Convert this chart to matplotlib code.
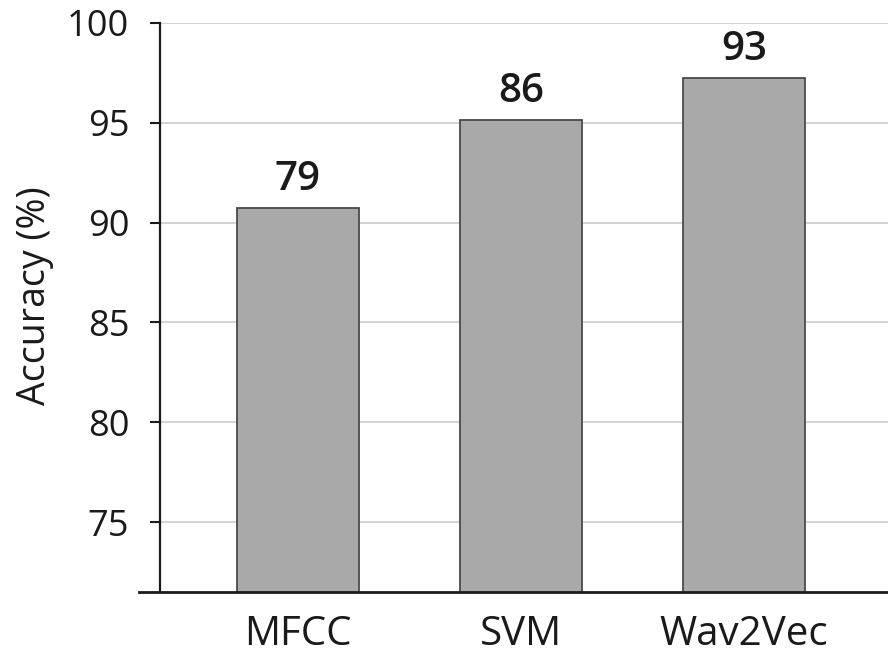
import matplotlib.pyplot as plt

plt.rcParams['font.family'] = ['Open Sans', 'DejaVu Sans']

# data
methods = ['MFCC', 'SVM', 'Wav2Vec']
bar_heights = [90.72, 95.14, 97.24]
bar_labels = ['79', '86', '93']
yticks = [75, 80, 85, 90, 95, 100]

fig = plt.figure(figsize=(8.88, 6.56), dpi=100)
ax = fig.add_axes([0.180, 0.0976, 0.82, 0.8674])

x = range(len(methods))
bars = ax.bar(x, bar_heights, width=0.55, color='#a9a9a9',
              edgecolor='#4a4a4a', linewidth=1.3, zorder=3)

for b, lab in zip(bars, bar_labels):
    ax.annotate(lab, (b.get_x() + b.get_width() / 2, b.get_height()),
                xytext=(0, 6), textcoords='offset points',
                ha='center', va='bottom', fontsize=29, fontweight='semibold',
                color='#1a1a1a')

ax.set_ylim(71.5, 100)
ax.set_xlim(-0.619, 2.646)
ax.set_yticks(yticks)
ax.set_xticks(list(x))
ax.set_xticklabels(methods, fontsize=29, color='#1a1a1a')
ax.tick_params(axis='y', labelsize=26, length=7, width=1.5, colors='#1a1a1a', pad=15)
ax.tick_params(axis='x', length=0, pad=16)
ax.set_ylabel('Accuracy (%)', fontsize=27, color='#1a1a1a')
ax.yaxis.set_label_coords(-0.146, 0.52)

ax.grid(axis='y', color='#cfcfcf', linewidth=1.3, zorder=0)
ax.set_axisbelow(True)

for s in ['top', 'right']:
    ax.spines[s].set_visible(False)
ax.spines['left'].set_linewidth(1.6)
ax.spines['left'].set_color('#1a1a1a')
ax.spines['bottom'].set_visible(False)
# bottom axis line sticks out a little to the left of the y axis
ax.plot([-0.028, 1.0], [0, 0], transform=ax.transAxes, clip_on=False,
        color='#1a1a1a', linewidth=2, zorder=5)

fig.savefig('out.png', dpi=100)
